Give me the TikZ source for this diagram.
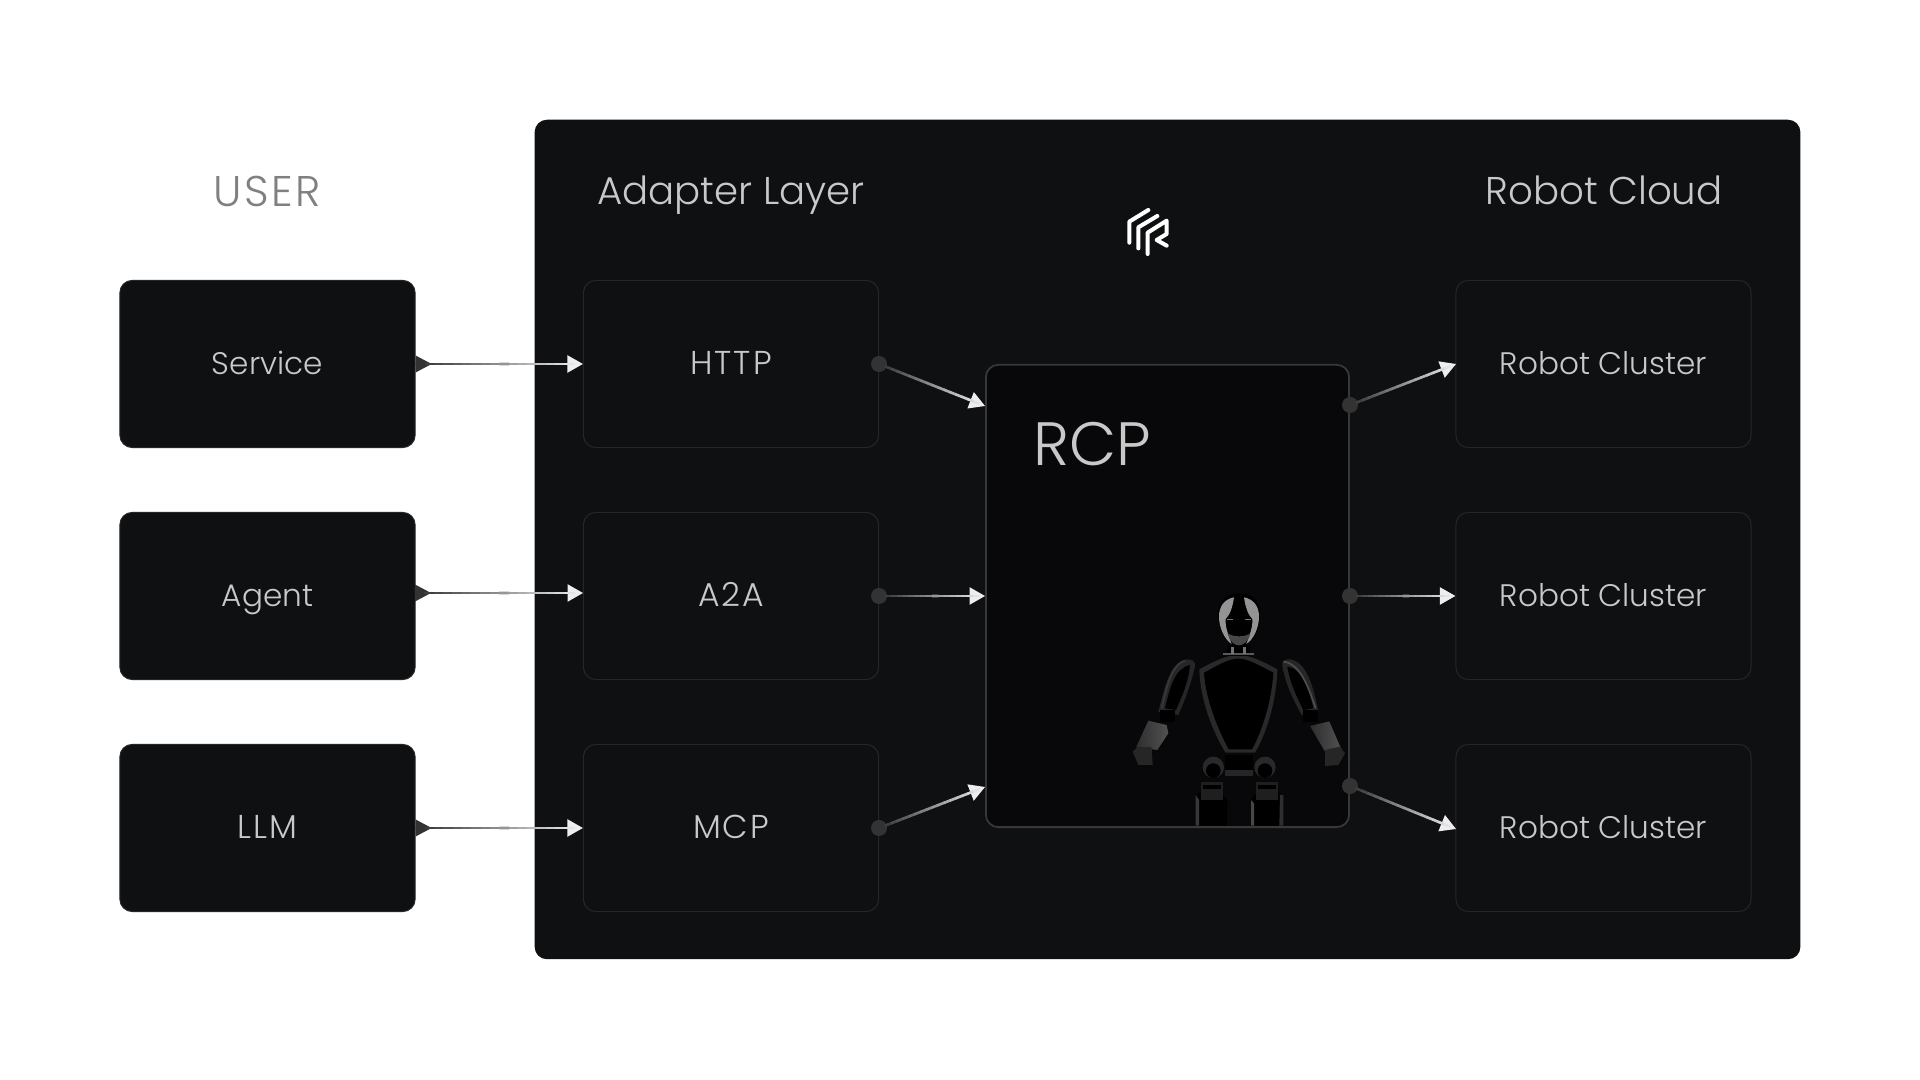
\documentclass[tikz,border=0pt]{standalone}
\usepackage{fontspec}
\setmainfont{Poppins}[UprightFont=* Light]
\newfontfamily\capsfont{Poppins}[UprightFont=* Light, LetterSpace=6]
\usetikzlibrary{calc, arrows.meta}
\definecolor{panel}{HTML}{0F1012}
\definecolor{rcpfill}{HTML}{08080B}
\definecolor{edge}{HTML}{25262A}
\definecolor{label}{HTML}{C9C9C9}
\definecolor{flowdark}{HTML}{333333}
\definecolor{flowlight}{HTML}{EEEEEE}
\tikzstyle{card} = [draw=edge, fill=panel, rounded corners=3.5pt, line width=.3pt, minimum width=2.95cm, minimum height=1.67cm, inner sep=0pt, text=label, text height=7.5pt, text depth=1.5pt, font=\fontsize{8.85pt}{10pt}\selectfont]
\tikzstyle{title} = [inner sep=0pt, text=label, text height=9.2pt, text depth=1.7pt, font=\fontsize{11pt}{12pt}\selectfont]
\tikzstyle{dot} = [circle, fill=flowdark, minimum size=.16cm, inner sep=0pt]
\tikzstyle{tipline} = [-{Triangle[length=4.4pt,width=4.9pt]}, flowlight, line width=.45pt]
\tikzstyle{body} = [fill=black]
\tikzstyle{limb} = [left color=black!82!white, right color=black!68!white]
\tikzstyle{sheen} = [black!78!white, line width=.5pt]
\tikzstyle{logo} = [white, line width=1.15pt, line cap=round, line join=round]
\newcommand{\flow}[2]{
    \draw [tipline] (#1) -- (#2);
    \foreach \i [evaluate=\i as \p using 100*\i/17] in {0,...,16}
        \draw [flowlight!\p!flowdark, line width=.75pt] ($(#1)!\i/18!(#2)$) -- ($(#1)!{(\i+1.1)/18}!(#2)$);
}
\newcommand{\starttip}[1]{
    \fill [flowdark] ($(#1)+(0,-8.5)$) -- ($(#1)+(16,0)$) -- ($(#1)+(0,8.5)$) -- cycle;
}
\begin{document}
\begin{tikzpicture}[x=.01cm, y=-.01cm]
    \useasboundingbox (0,0) rectangle (1920,1080);
    \fill [white] (0,0) rectangle (1920,1080);
    % back panel
    \draw (1167.5,539.5) node [fill=panel, rounded corners=3.5pt, minimum width=12.65cm, minimum height=8.39cm, inner sep=0pt] (cloud) {};

    \draw (267,193) node [title, text=black!50, font=\capsfont\fontsize{12.2pt}{14pt}\selectfont] (user) {USER};
    \draw (731,191.5) node [title] (adapter) {Adapter Layer};
    \draw (1604,191.5) node [title] (robotcloud) {Robot Cloud};

    \draw (267.5,364) node [card] (service) {Service};
    \draw (267.5,596) node [card] (agent) {Agent};
    \draw (267.5,828) node [card, font=\capsfont\fontsize{9.4pt}{10pt}\selectfont] (llm) {LLM};
    \draw (731,364) node [card, font=\capsfont\fontsize{9.4pt}{10pt}\selectfont] (http) {HTTP};
    \draw (731,596) node [card, font=\capsfont\fontsize{9.4pt}{10pt}\selectfont] (a2a) {A2A};
    \draw (731,828) node [card, font=\capsfont\fontsize{9.4pt}{10pt}\selectfont] (mcp) {MCP};
    \draw (1603.5,364) node [card] (cluster1) {Robot Cluster};
    \draw (1603.5,596) node [card] (cluster2) {Robot Cluster};
    \draw (1603.5,828) node [card] (cluster3) {Robot Cluster};

    % center block
    \draw (1167.5,596) node [draw=black!78!white, fill=rcpfill, rounded corners=3.5pt, line width=.5pt, minimum width=3.63cm, minimum height=4.62cm, inner sep=0pt] (rcp) {};
    \draw (1092,444) node [inner sep=0pt, text=label, font=\fontsize{17.4pt}{20pt}\selectfont] (rcplabel) {RCP};

    % logo
    \begin{scope}[shift={(1100,190)}, scale=1/3]
        \draw [logo] (88,158) -- (88,95) -- (145,60);
        \draw [logo] (115,175) -- (115,112) -- (172,78);
        \draw [logo] (143,192) -- (143,128) -- (200,92) -- (200,132) -- (170,150) -- (200,167);
    \end{scope}

    % robot
    \begin{scope}[shift={(1050,520)}, scale=1/3]
        % legs
        \fill [body] (437,825) -- (465,812) -- (520,825) -- (532,840) -- (530,917) -- (437,917) -- cycle;
        \fill [body] (603,840) -- (612,825) -- (670,812) -- (698,825) -- (700,917) -- (603,917) -- cycle;
        \fill [black!78!white] (437,825) -- (447,840) -- (447,917) -- (437,917) -- cycle;
        \fill [black!72!white] (603,840) -- (612,850) -- (612,917) -- (603,917) -- cycle;
        \fill [black!82!white] (690,825) -- (700,825) -- (700,917) -- (688,917) -- cycle;
        \fill [black!88!white] (452,785) rectangle (518,840);
        \fill [black!88!white] (617,785) rectangle (683,840);
        \fill [body] (458,795) rectangle (512,806);
        \fill [body] (623,795) rectangle (677,806);
        \fill [black!84!white] (490,742) circle [radius=32];
        \fill [black!84!white] (645,742) circle [radius=32];
        \fill [body] (490,752) circle [radius=22];
        \fill [body] (645,752) circle [radius=22];
        \fill [black!85!white] (525,750) rectangle (610,768);
        \fill [body] (525,705) rectangle (610,750);
        % arms
        \fill [black!85!white] (325,575) .. controls (345,500) and (360,425) .. (410,418) .. controls (430,418) and (436,425) .. (435,440) .. controls (420,500) and (405,540) .. (385,585) -- cycle;
        \fill [black!85!white] (805,575) .. controls (790,500) and (770,425) .. (720,418) .. controls (700,418) and (695,425) .. (697,440) .. controls (710,500) and (730,540) .. (755,585) -- cycle;
        \fill [body] (345,565) .. controls (360,500) and (375,445) .. (420,435) .. controls (415,490) and (395,530) .. (378,570) -- cycle;
        \fill [body] (790,565) .. controls (775,500) and (755,445) .. (712,440) .. controls (720,490) and (740,530) .. (760,570) -- cycle;
        \draw [sheen] (335,565) .. controls (350,500) and (365,435) .. (405,422);
        \draw [black!70!white, line width=.5pt] (700,425) .. controls (750,430) and (775,500) .. (797,565);
        \fill [body] (330,570) rectangle (375,605);
        \fill [body] (760,570) rectangle (805,605);
        \fill [limb] (295,602) -- (350,615) -- (355,640) -- (322,690) -- (258,682) -- cycle;
        \fill [limb] (780,618) -- (838,604) -- (875,690) -- (828,700) -- cycle;
        \fill [black!85!white] (248,695) -- (265,680) -- (305,682) -- (308,735) -- (265,735) -- cycle;
        \fill [black!85!white] (825,690) -- (870,680) -- (885,700) -- (865,735) -- (825,738) -- cycle;
        % torso
        \fill [black!84!white] (448,448) .. controls (490,425) and (530,405) .. (565,405) .. controls (600,405) and (640,425) .. (682,448) .. controls (680,540) and (650,640) .. (615,698) -- (527,698) .. controls (490,640) and (450,540) .. (448,448) -- cycle;
        \fill [body] (462,458) .. controls (500,438) and (535,416) .. (565,416) .. controls (595,416) and (630,438) .. (670,458) .. controls (665,540) and (638,630) .. (606,688) -- (536,688) .. controls (505,630) and (467,540) .. (462,458) -- cycle;
        % neck
        \fill [body] (530,375) rectangle (600,408);
        \fill [black!65!white] (518,400) rectangle (612,404);
        \fill [black!55!white] (543,382) rectangle (552,402);
        \fill [black!55!white] (580,382) rectangle (589,402);
        % head
        \fill [body] (505,280) .. controls (505,240) and (530,220) .. (567,220) .. controls (605,220) and (630,240) .. (630,280) .. controls (630,335) and (605,380) .. (567,380) .. controls (530,380) and (505,335) .. (505,280) -- cycle;
        \fill [black!42!white] (552,232) .. controls (522,238) and (507,260) .. (507,290) .. controls (507,325) and (525,360) .. (545,372) .. controls (535,345) and (525,320) .. (527,297) .. controls (540,285) and (548,260) .. (552,232) -- cycle;
        \fill [black!42!white] (582,232) .. controls (612,238) and (627,260) .. (627,290) .. controls (627,325) and (609,360) .. (589,372) .. controls (599,345) and (609,320) .. (607,297) .. controls (594,285) and (586,260) .. (582,232) -- cycle;
        \fill [black!72!white] (533,340) .. controls (550,352) and (585,352) .. (601,340) .. controls (595,365) and (580,376) .. (567,376) .. controls (552,376) and (540,365) .. (533,340) -- cycle;
        \fill [black!55!white] (530,298) rectangle (550,301);
        \fill [black!55!white] (584,298) rectangle (604,301);
    \end{scope}

    % links
    \draw (879,364) node [dot] (httpdot) {};
    \draw (879,596) node [dot] (a2adot) {};
    \draw (879,828) node [dot] (mcpdot) {};
    \draw (1350,405) node [dot] (rcpdot1) {};
    \draw (1350,596) node [dot] (rcpdot2) {};
    \draw (1350,786) node [dot] (rcpdot3) {};

    \coordinate (agentout) at (415,593);
    \coordinate (a2ain) at (583,593);
    \coordinate (rcpin1) at (985,406);
    \coordinate (rcpin3) at (985,787);
    \coordinate (clusterin1) at (1456,364);
    \coordinate (clusterin3) at (1456,829);

    \starttip{service.east}
    \starttip{agentout}
    \starttip{llm.east}
    \flow{service.east}{http.west}
    \flow{agentout}{a2ain}
    \flow{llm.east}{mcp.west}
    \flow{httpdot}{rcpin1}
    \flow{a2adot}{rcp.west}
    \flow{mcpdot}{rcpin3}
    \flow{rcpdot1}{clusterin1}
    \flow{rcpdot2}{cluster2.west}
    \flow{rcpdot3}{clusterin3}
\end{tikzpicture}
\end{document}
